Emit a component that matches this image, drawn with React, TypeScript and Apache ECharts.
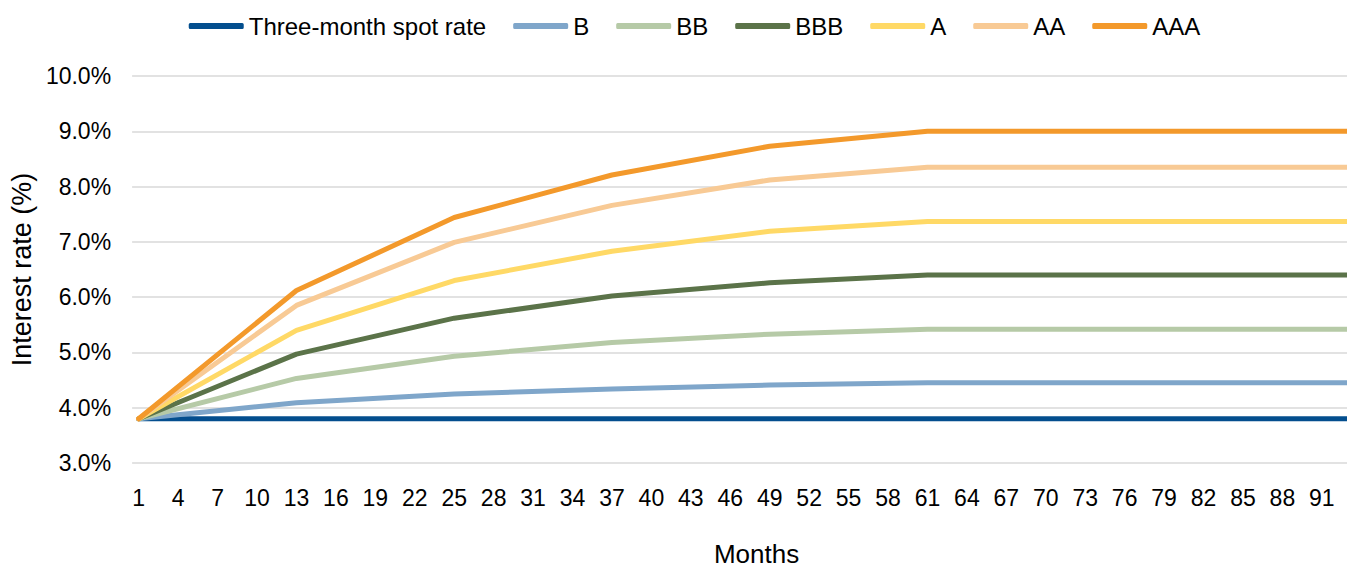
import React, { useEffect, useRef } from "react";
import * as echarts from "echarts";

const monthCount = 95;
const months: string[] = Array.from({ length: monthCount }, (_, i) => String(i + 1));
const keyMonths = [1, 13, 25, 37, 49, 61, 95];

const seriesNames = ["Three-month spot rate", "B", "BB", "BBB", "A", "AA", "AAA"];
const spotValues = [3.8, 3.8, 3.8, 3.8, 3.8, 3.8, 3.8];
const bValues = [3.8, 4.09, 4.25, 4.34, 4.41, 4.45, 4.45];
const bbValues = [3.8, 4.53, 4.93, 5.18, 5.33, 5.42, 5.42];
const bbbValues = [3.8, 4.97, 5.62, 6.02, 6.26, 6.4, 6.4];
const aValues = [3.8, 5.4, 6.3, 6.83, 7.19, 7.37, 7.37];
const aaValues = [3.8, 5.85, 6.99, 7.66, 8.12, 8.35, 8.35];
const aaaValues = [3.8, 6.12, 7.44, 8.21, 8.73, 9.0, 9.0];
const seriesValues = [spotValues, bValues, bbValues, bbbValues, aValues, aaValues, aaaValues];
const seriesColors = ["#034E8E", "#7FA6CA", "#B6CAA7", "#5B7349", "#FFD966", "#F8CA95", "#F3992B"];

function toSparse(values: number[]): (number | null)[] {
  const out: (number | null)[] = months.map(() => null);
  keyMonths.forEach((m, i) => {
    out[m - 1] = values[i];
  });
  return out;
}

const FONT = "'Liberation Sans', Arial, sans-serif";

export default function App() {
  const ref = useRef<HTMLDivElement>(null);
  useEffect(() => {
    if (!ref.current) return;
    const chart = echarts.init(ref.current, undefined, { renderer: "svg" });
    chart.setOption({
      animation: false,
      textStyle: { fontFamily: FONT },
      legend: {
        top: 14,
        left: "center",
        padding: 0,
        itemWidth: 55,
        itemHeight: 6,
        itemGap: 27,
        icon: "roundRect",
        textStyle: { fontSize: 24, color: "#000", fontFamily: FONT },
        data: seriesNames,
      },
      grid: { left: 130.7, right: 8, top: 76, bottom: 98, containLabel: false },
      xAxis: {
        type: "category",
        data: months,
        boundaryGap: true,
        axisLine: { show: false },
        axisTick: { show: false },
        axisLabel: {
          interval: (i: number) => i % 3 === 0 && i <= 90,
          fontSize: 23,
          color: "#000",
          margin: 23,
          fontFamily: FONT,
        },
        name: "Months",
        nameLocation: "middle",
        nameGap: 78,
        nameTextStyle: { fontSize: 26, color: "#000", fontFamily: FONT },
      },
      yAxis: {
        type: "value",
        min: 3,
        max: 10,
        interval: 1,
        axisLine: { show: false },
        axisTick: { show: false },
        axisLabel: {
          fontSize: 23,
          color: "#000",
          margin: 21,
          fontFamily: FONT,
          formatter: (v: number) => v.toFixed(1) + "%",
        },
        splitLine: { lineStyle: { color: "#D9D9D9", width: 1.5 } },
        name: "Interest rate (%)",
        nameLocation: "middle",
        nameGap: 96,
        nameTextStyle: { fontSize: 27, color: "#000", fontFamily: FONT },
      },
      series: seriesNames.map((name, i) => ({
        name,
        type: "line",
        data: toSparse(seriesValues[i]),
        connectNulls: true,
        showSymbol: false,
        symbol: "none",
        color: seriesColors[i],
        lineStyle: { width: 5, color: seriesColors[i], cap: "round", join: "round" },
      })),
    });
    return () => chart.dispose();
  }, []);
  return (
    <div style={{ position: "absolute", left: 0, top: 0, width: 1347, height: 572, overflow: "hidden", background: "#fff" }}>
      <div ref={ref} style={{ width: 1389, height: 572 }} />
    </div>
  );
}
